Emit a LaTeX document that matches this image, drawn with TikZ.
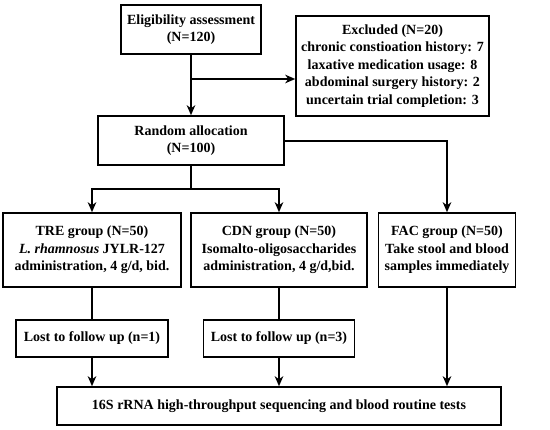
\documentclass[tikz,border=0pt]{standalone}
\usepackage{fontspec}
\setmainfont{Liberation Serif}[BoldFont={Liberation Serif Bold},BoldItalicFont={Liberation Serif Bold Italic}]
\usetikzlibrary{arrows.meta}
\begin{document}
\begin{tikzpicture}[x=1pt,y=-1pt,
  box/.style={draw,line width=1.5pt,align=center,inner sep=0pt,font=\fontsize{14}{17.4}\selectfont\bfseries},
  conn/.style={line width=1.5pt},
  arr/.style={conn,-{Stealth[length=10pt,width=8.5pt,inset=3pt]}}]
\useasboundingbox (0,0) rectangle (550,430);
\node[box,minimum width=140pt,minimum height=49pt] (elig) at (191,29.5) {Eligibility assessment\\(N=120)};
\node[box,minimum width=193pt,minimum height=100pt] (excl) at (392.5,66) {Excluded (N=20)\\chronic constioation history: 7\\laxative medication usage: 8\\abdominal surgery history: 2\\uncertain trial completion: 3};
\node[box,minimum width=186pt,minimum height=49pt] (rand) at (191,140.5) {Random allocation\\(N=100)};
\node[box,minimum width=178pt,minimum height=74pt] (tre) at (92,250) {TRE group (N=50)\\\textit{L. rhamnosus} JYLR-127\\administration, 4 g/d, bid.};
\node[box,minimum width=176pt,minimum height=74pt] (cdn) at (279,250) {CDN group (N=50)\\Isomalto-oligosaccharides\\administration, 4 g/d,bid.};
\node[box,minimum width=137pt,minimum height=74pt] (fac) at (447,250) {FAC group (N=50)\\Take stool and blood\\samples immediately};
\node[box,minimum width=152pt,minimum height=37pt] (lost1) at (92,338.5) {Lost to follow up (n=1)};
\node[box,minimum width=151pt,minimum height=37pt] (lost2) at (279,338.5) {Lost to follow up (n=3)};
\node[box,minimum width=444pt,minimum height=38pt] (final) at (279,406) {16S rRNA high-throughput sequencing and blood routine tests};
\coordinate (br) at (191,79);
\coordinate (split) at (191,189);
\draw[arr] (elig) -- (rand);
\draw[arr] (br) -- (br -| excl.west);
\draw[arr] (rand.east |- 0,141) -| (fac.north);
\draw[conn] (rand.south) -- (split);
\draw[arr] (split) -| (tre.north);
\draw[arr] (split) -| (cdn.north);
\draw[conn] (tre.south) -- (lost1.north);
\draw[conn] (cdn.south) -- (lost2.north);
\draw[arr] (lost1.south) -- (lost1.south |- final.north);
\draw[arr] (lost2.south) -- (lost2.south |- final.north);
\draw[arr] (fac.south) -- (fac.south |- final.north);
\end{tikzpicture}
\end{document}
